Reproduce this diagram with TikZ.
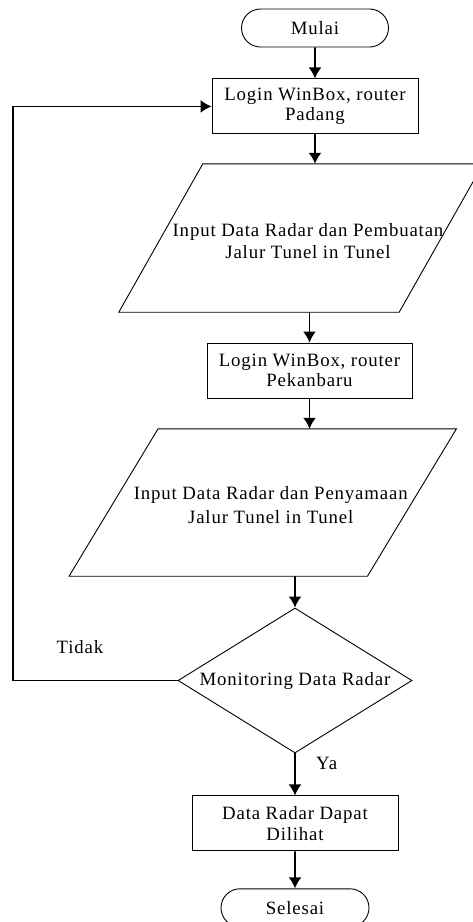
\documentclass[tikz,border=0pt]{standalone}
\usepackage{fontspec}
\setmainfont{Liberation Serif}[LetterSpace=4.5]
\usepackage{tikz}
\usetikzlibrary{arrows.meta,positioning,calc,shapes.geometric,shapes.misc}
\tikzset{>=Latex}

\begin{document}
\begin{tikzpicture}[x=1pt,y=-1pt,node distance=31pt,
            font=\fontsize{18.8}{20.5}\selectfont,
            term/.style={draw,rounded rectangle,line width=0.9pt,minimum width=147pt,minimum height=38pt,inner sep=0pt},
            proc/.style={draw,rectangle,line width=0.9pt,minimum width=206pt,minimum height=55pt,inner sep=0pt,align=center},
            io/.style={rectangle,inner sep=0pt},
            cond/.style={draw,diamond,aspect=1.6,line width=0.9pt,minimum width=234pt,minimum height=145pt,inner sep=0pt},
            flow/.style={-{Latex[length=11pt,width=13pt]},line width=1.8pt}]
            \useasboundingbox (0,0) rectangle (472,922);
            \node [term] (start) at (315,28) {Mulai};
            \node [proc,below=31pt of start] (login1) {Login WinBox, router\\Padang};
            \node [io,minimum width=364pt,minimum height=148pt,label={[align=center,xshift=7pt,yshift=-3pt]center:{Input Data Radar dan Pembuatan\\[1.5pt]Jalur Tunel in Tunel}}] (input1) at (301,238) {};
            \node [proc,minimum width=205pt] (login2) at (309.5,370.5) {Login WinBox, router\\Pekanbaru};
            \node [io,minimum width=387pt,minimum height=147pt,label={[align=center,xshift=8pt,yshift=-3pt]center:{Input Data Radar dan Penyamaan\\[3.5pt]Jalur Tunel in Tunel}}] (input2) at (262.75,502.5) {};
            \node [cond] (mon) at (295,680.5) {Monitoring Data Radar};
            \node [proc,below=42pt of mon] (show) {Data Radar Dapat\\Dilihat};
            \node [term,minimum width=148pt,below=37pt of show] (stop) {Selesai};
            \node (no) at (80,647) {Tidak};
            \coordinate (back) at (13,400);
            \draw [line width=0.9pt] ([xshift=84pt]input1.north west) -- (input1.north east) -- ([xshift=-84pt]input1.south east) -- (input1.south west) -- cycle;
            \draw [line width=0.9pt] ([xshift=89pt]input2.north west) -- (input2.north east) -- ([xshift=-89pt]input2.south east) -- (input2.south west) -- cycle;
            \draw [flow] (start) -- (login1);
            \draw [flow] (login1) -- (login1 |- input1.north);
            \draw [flow] (input1.south -| login2) -- (login2);
            \draw [flow] (login2) -- (login2 |- input2.north);
            \draw [flow] (input2.south -| mon) -- (mon);
            \draw [flow] (mon) -- node [pos=0.24,right=17pt] (yes) {Ya} (show);
            \draw [flow] (show) -- (stop);
            \draw [flow] (mon.west) -| (back) |- (login1.west);
         \end{tikzpicture}
\end{document}
